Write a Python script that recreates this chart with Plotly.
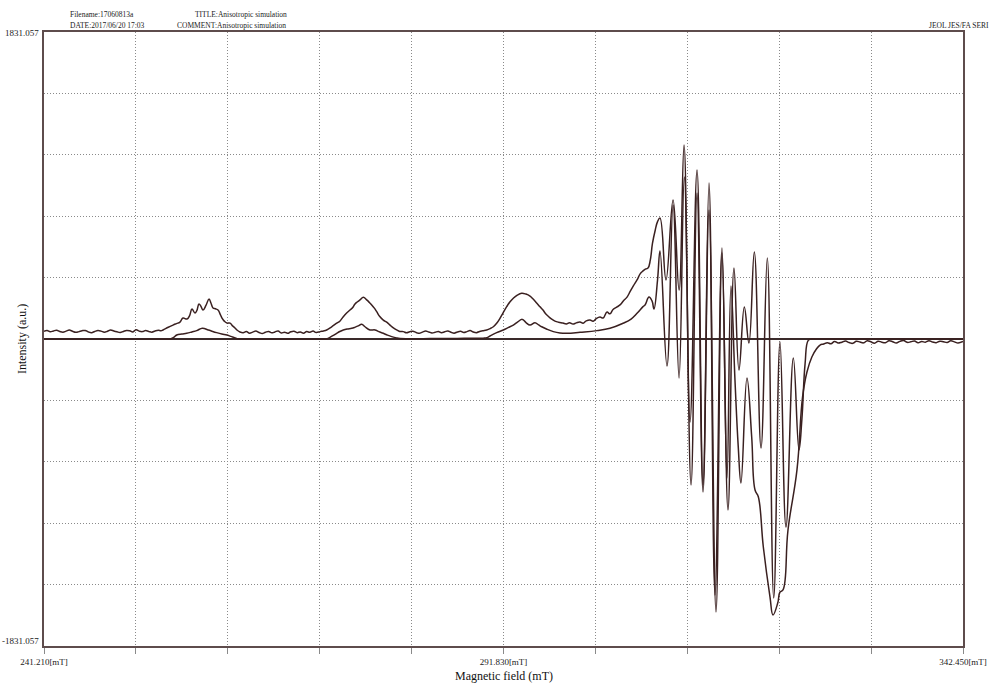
import plotly.graph_objects as go

# ---- EPR spectrum data: magnetic field (mT) and intensity (a.u.) ----
exp_field = [
    241.21, 241.55, 241.90, 242.25, 242.60, 242.95, 243.30, 243.65, 244.00, 244.35,
    244.70, 245.05, 245.40, 245.75, 246.10, 246.45, 246.80, 247.15, 247.50, 247.85,
    248.20, 248.55, 248.90, 249.25, 249.60, 249.95, 250.30, 250.65, 251.00, 251.35,
    251.70, 252.05, 252.40, 252.75, 253.10, 253.45, 253.80, 254.10,
    254.32, 254.90, 255.42, 255.80, 256.19, 256.52, 256.96, 257.25, 257.51, 257.84,
    258.05, 258.28, 258.50, 258.73, 259.05, 259.39, 259.60, 259.83, 260.10, 260.38,
    260.60, 260.82, 261.10, 261.37, 261.70, 261.95, 262.25, 262.50, 262.80,
    263.15, 263.50, 263.85, 264.20, 264.55, 264.90, 265.25, 265.60, 265.95, 266.30,
    266.65, 267.00, 267.35, 267.70, 268.05, 268.40, 268.75, 269.10, 269.45, 269.80,
    270.15, 270.50, 270.85, 271.20, 271.62,
    272.00, 272.35, 272.90, 273.45, 273.80, 274.18, 274.55, 274.92, 275.20, 275.47,
    275.75, 276.02, 276.39, 276.76, 277.05, 277.31, 277.60, 277.86, 278.20, 278.59,
    279.00, 279.33, 279.70, 280.06, 280.40, 280.79,
    281.15, 281.50, 281.85, 282.20, 282.55, 282.90, 283.25, 283.60, 283.95, 284.30,
    284.65, 285.00, 285.35, 285.70, 286.05, 286.40, 286.75, 287.10, 287.45, 287.80,
    288.15, 288.50, 288.85, 289.20, 289.55,
    289.98, 290.35, 290.71, 291.10, 291.44, 291.80, 292.18, 292.55, 292.91, 293.35,
    293.83, 294.30, 294.75, 295.10, 295.48, 295.85, 296.18, 296.45, 296.73, 297.10,
    297.50, 297.90, 298.38, 298.75, 299.10, 299.48, 299.85, 300.26, 300.60, 300.95,
    301.36, 301.70, 302.05, 302.46, 302.80, 303.23, 303.55, 303.90, 304.33, 304.70,
    305.05, 305.44, 305.80, 306.15, 306.54, 306.90, 307.20, 307.50, 307.75, 308.00,
    308.24, 308.55, 308.80, 309.07,
    309.73, 310.51, 311.17, 311.72, 312.38, 313.15, 313.81, 314.47, 315.13, 315.90,
    316.45, 316.89, 317.33, 317.69, 317.99, 318.65, 319.17, 319.54, 319.90, 320.45,
    321.19, 321.52, 322.04, 322.29, 322.62, 323.17, 324.16, 324.78, 325.26, 325.80,
    326.30, 326.70,
    327.10, 327.50, 327.90, 328.30, 328.70, 329.10, 329.50, 329.90, 330.30, 330.70,
    331.10, 331.50, 331.90, 332.30, 332.70, 333.10, 333.50, 333.90, 334.30, 334.70,
    335.10, 335.50, 335.90, 336.30, 336.70, 337.10, 337.50, 337.90, 338.30, 338.70,
    339.10, 339.50, 339.90, 340.30, 340.70, 341.10, 341.50, 341.90, 342.45,
]
exp_intensity = [
    46, 50, 43, 48, 52, 45, 41, 47, 53, 46,
    40, 44, 49, 51, 42, 38, 45, 50, 47, 41,
    46, 54, 48, 43, 39, 45, 51, 49, 42, 55,
    47, 44, 50, 45, 41, 48, 52, 49,
    54, 70, 83, 92, 101, 125, 119, 140, 179, 155,
    170, 209, 195, 173, 200, 239, 215, 185, 180, 173,
    150, 125, 105, 95, 95, 80, 66, 52, 42,
    38, 44, 35, 41, 47, 39, 33, 40, 45, 37,
    42, 48, 36, 41, 34, 43, 46, 38, 42, 35,
    44, 40, 47, 39, 44,
    48, 54, 73, 94, 106, 133, 155, 173, 186, 209,
    222, 233, 249, 233, 218, 203, 184, 163, 134, 113,
    99, 83, 66, 54, 45, 44,
    37, 43, 46, 39, 34, 41, 47, 42, 36, 40,
    45, 38, 43, 48, 40, 35, 42, 46, 39, 44,
    50, 42, 38, 45, 49,
    54, 62, 73, 95, 123, 158, 193, 222, 243, 262,
    273, 268, 256, 238, 215, 192, 173, 152, 137, 120,
    107, 100, 95, 90, 97, 89, 96, 101, 94, 108,
    113, 106, 122, 131, 125, 161, 150, 176, 191, 205,
    228, 250, 285, 318, 352, 390, 406, 418, 423, 470,
    570, 650, 700, 722,
    352, 829, 292, 1157, -495, 1008, -871, 930, -1527, 543,
    -829, 316, -245, -642, -859, -233, -583, -901, -941, -1239,
    -1539, -1646, -1575, -1509, -1497, -1139, -781, -344, -197, -107,
    -60, -36,
    -30, -22, -28, -15, -24, -19, -12, -21, -26, -14,
    -18, -23, -10, -17, -25, -13, -19, -22, -11, -16,
    -24, -14, -9, -20, -17, -12, -23, -15, -19, -10,
    -18, -22, -13, -16, -21, -11, -17, -24, -15,
]

sim_field = [
    241.21, 244.00, 247.00, 250.00, 252.50, 254.50, 255.09,
    255.50, 255.83, 256.40, 256.93, 257.50, 258.03, 258.65, 259.31,
    259.80, 260.23, 260.80, 261.36, 261.70, 262.06, 262.50,
    263.20, 264.50, 266.00, 267.50, 269.00, 270.50, 271.60, 272.39,
    272.71, 273.10, 273.45, 273.80, 274.18, 274.60, 275.11, 275.50, 275.83,
    276.21, 276.57, 277.12, 277.67, 278.10, 278.59, 279.05, 279.51, 280.06, 280.43,
    281.50, 283.00, 284.50, 285.90, 287.50, 288.80, 289.60, 290.00,
    290.34, 291.08, 291.81, 292.35, 292.91, 293.40, 293.90,
    294.31, 294.75, 295.30, 295.70, 296.04, 296.62, 297.32, 298.05, 298.83, 300.26,
    302.13, 303.56, 305.00, 305.88, 306.54, 307.20, 307.42, 307.86, 308.19, 308.41,
    308.80, 309.07, 309.84, 310.51, 311.17, 311.75, 312.49, 313.15, 313.81, 314.47,
    315.24, 315.90, 316.56, 317.22, 317.77, 318.36, 318.87, 319.46, 320.20, 320.89,
    321.60, 322.29, 322.95, 323.76, 324.38, 324.70, 325.05, 325.40, 325.75,
    326.50, 328.00, 330.00, 333.00, 336.00, 339.00, 342.45,
]
sim_intensity = [
    0, 0, 0, 0, 0, 0, 0,
    10, 24, 30, 34, 42, 50, 64, 54,
    45, 38, 30, 24, 17, 10, 2,
    0, 0, 0, 0, 0, 0, 0, 2,
    10, 22, 34, 45, 54, 60, 64, 71, 78,
    88, 73, 54, 54, 44, 34, 23, 14, 6, 3,
    2, 2, 3, 3, 4, 5, 5, 8,
    18, 38, 54, 68, 83, 102, 117,
    98, 83, 97, 84, 73, 58, 44, 36, 34, 40,
    50, 64, 94, 119, 153, 193, 203, 250, 227, 179,
    352, 525, -161, 799, -233, 966, -871, 871, -913, 769,
    -1628, 513, -1020, 423, -185, 191, -24, 519, -650, 483,
    -1545, -18, -1121, -113, -662, -480, -150, -8, 0,
    0, 0, 0, 0, 0, 0, 0,
]

field_min, field_max = 241.210, 342.450
int_min, int_max = -1831.057, 1831.057
x_grid = [241.210, 251.334, 261.458, 271.582, 281.706, 291.830,
          301.954, 312.078, 322.202, 332.326, 342.450]
x_tick_text = ["241.210[mT]", "", "", "", "", "291.830[mT]",
               "", "", "", "", "342.450[mT]"]
y_grid = [-1831.057, -1464.846, -1098.634, -732.423, -366.211, 0.0,
          366.211, 732.423, 1098.634, 1464.846, 1831.057]

curve_color = "#3a2020"
serif = "Liberation Serif, Times New Roman, serif"

fig = go.Figure()
fig.add_trace(go.Scatter(
    x=sim_field, y=sim_intensity, mode="lines",
    line=dict(color=curve_color, width=1.5, shape="spline", smoothing=1.2),
    name="Simulation", hoverinfo="skip",
))
fig.add_trace(go.Scatter(
    x=exp_field, y=exp_intensity, mode="lines",
    line=dict(color=curve_color, width=1.5, shape="spline", smoothing=1.2),
    name="Experiment", hoverinfo="skip",
))

fig.update_layout(
    width=993, height=687,
    margin=dict(l=44, r=30, t=32, b=41, autoexpand=False),
    paper_bgcolor="white", plot_bgcolor="white",
    showlegend=False,
    font=dict(family=serif, color="#222222", size=9),
    xaxis=dict(
        range=[field_min, field_max], automargin=False,
        tickmode="array", tickvals=x_grid, ticktext=x_tick_text,
        ticks="outside", ticklen=6, tickcolor="#8a8a8a", tickwidth=1,
        tickfont=dict(family=serif, size=9, color="#222222"),
        showgrid=True, gridcolor="#8a8a8a", gridwidth=1, griddash="1px,2px",
        showline=True, linecolor="#5e4c4c", linewidth=2, mirror=True,
        zeroline=False, fixedrange=True,
    ),
    yaxis=dict(
        range=[int_min, int_max], automargin=False,
        tickmode="array", tickvals=y_grid, showticklabels=False, ticks="",
        showgrid=True, gridcolor="#8a8a8a", gridwidth=1, griddash="1px,2px",
        showline=True, linecolor="#5e4c4c", linewidth=2, mirror=True,
        zeroline=True, zerolinecolor="#3a2a2a", zerolinewidth=1.6,
        fixedrange=True,
    ),
)

annotations = [
    dict(text="1831.057", xref="paper", x=0, xshift=-3, xanchor="right",
         yref="y", y=int_max, yshift=-1, yanchor="middle",
         font=dict(size=9)),
    dict(text="-1831.057", xref="paper", x=0, xshift=-3, xanchor="right",
         yref="y", y=int_min, yshift=5, yanchor="middle",
         font=dict(size=9)),
    dict(text="Magnetic field (mT)", xref="paper", x=0.5, xanchor="center",
         yref="paper", y=-0.0489, yanchor="middle",
         font=dict(size=12, color="#111111")),
    dict(text="Intensity (a.u.)", xref="paper", x=-0.0239, xanchor="center",
         yref="paper", y=0.5, yanchor="middle", textangle=-90,
         font=dict(size=12, color="#111111")),
    dict(text="Filename:17060813a", xref="paper", x=0.0261, xanchor="left",
         yref="paper", y=1.0285, yanchor="middle", font=dict(size=7.5)),
    dict(text="TITLE:Anisotropic simulation", xref="paper", x=0.1621,
         xanchor="left", yref="paper", y=1.0285, yanchor="middle",
         font=dict(size=7.5)),
    dict(text="DATE:2017/06/20 17:03", xref="paper", x=0.0261, xanchor="left",
         yref="paper", y=1.0106, yanchor="middle", font=dict(size=7.5)),
    dict(text="COMMENT:Anisotropic simulation", xref="paper", x=0.1425,
         xanchor="left", yref="paper", y=1.0106, yanchor="middle",
         font=dict(size=7.5)),
    dict(text="JEOL JES/FA SERI", xref="paper", x=1.0305, xanchor="right",
         yref="paper", y=1.0106, yanchor="middle", font=dict(size=7.5)),
]
for a in annotations:
    a["showarrow"] = False
fig.update_layout(annotations=annotations)

fig.write_html("out.html")
